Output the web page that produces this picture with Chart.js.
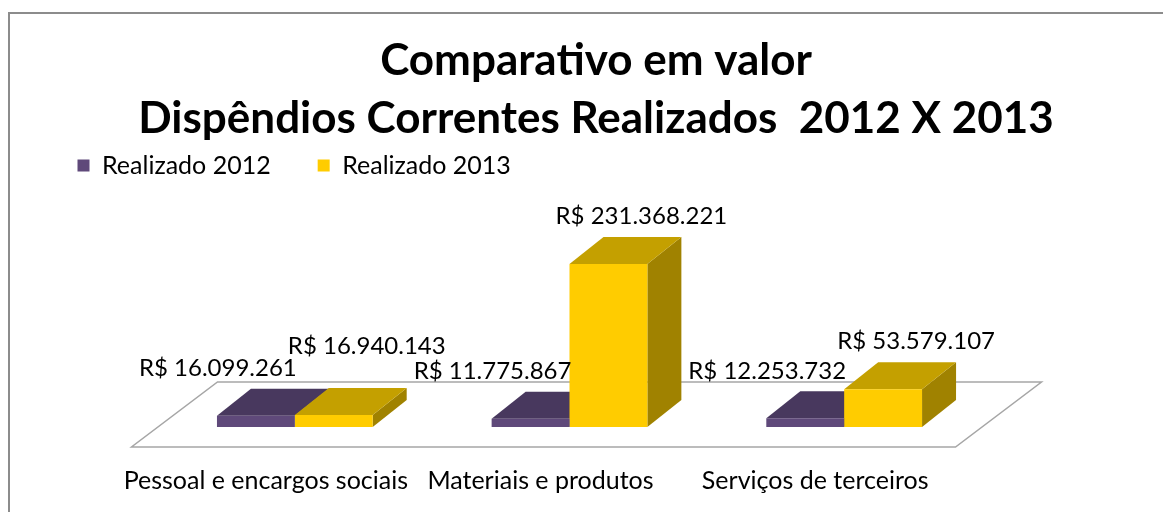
<!DOCTYPE html>
<html>
<head>
<meta charset="utf-8">
<script src="https://cdn.jsdelivr.net/npm/chart.js@4"></script>
<style>
  body { margin: 0; background: #fff; overflow: hidden; }
  #wrap { width: 1163px; height: 512px; }
</style>
</head>
<body>
<div id="wrap"><canvas id="gastosChart"></canvas></div>
<script>
const categories = ['Pessoal e encargos sociais', 'Materiais e produtos', 'Serviços de terceiros'];
const seriesNames = ['Realizado 2012', 'Realizado 2013'];
const realizado2012 = [16099261, 11775867, 12253732];
const realizado2013 = [16940143, 231368221, 53579107];

const FONT = 'Lato';
// face colours: front / top / right side
const faces = [
    { front: '#5f497a', top: '#48385e', side: '#3d2f50' },
    { front: '#ffcc00', top: '#c4a000', side: '#a08200' }
];
// label offsets from bar front centre / top
const labelShift = [{ dx: -38, dy: -47 }, { dx: 33, dy: -48 }];
const depth = { dx: 34, dy: 27 };

function brl(v) {
    return 'R$ ' + String(v).replace(/\B(?=(\d{3})+(?!\d))/g, '.');
}

const bar3d = {
    id: 'bar3d',
    beforeDraw(chart) {
        const ctx = chart.ctx;
        ctx.save();
        ctx.strokeStyle = '#8c8c8c';
        ctx.lineWidth = 2;
        ctx.beginPath();
        ctx.moveTo(9, chart.height + 5);
        ctx.lineTo(9, 13);
        ctx.lineTo(chart.width + 5, 13);
        ctx.stroke();
        ctx.restore();
    },
    beforeDatasetsDraw(chart) {
        const { ctx, chartArea, scales } = chart;
        const y0 = scales.y.getPixelForValue(0);
        // floor
        const fy = y0 + 20, fl = chartArea.left - 26, fr = chartArea.right - 26;
        ctx.save();
        ctx.strokeStyle = '#a6a6a6';
        ctx.lineWidth = 1.5;
        ctx.beginPath();
        ctx.moveTo(fl, fy);
        ctx.lineTo(fr, fy);
        ctx.lineTo(fr + 86, fy - 65);
        ctx.lineTo(fl + 86, fy - 65);
        ctx.closePath();
        ctx.stroke();
        // side + top faces, left to right
        categories.forEach((c, i) => {
            chart.data.datasets.forEach((ds, d) => {
                const b = chart.getDatasetMeta(d).data[i];
                const l = b.x - b.width / 2, r = b.x + b.width / 2;
                ctx.fillStyle = faces[d].side;
                ctx.beginPath();
                ctx.moveTo(r, b.y);
                ctx.lineTo(r + depth.dx, b.y - depth.dy);
                ctx.lineTo(r + depth.dx, b.base - depth.dy);
                ctx.lineTo(r, b.base);
                ctx.closePath();
                ctx.fill();
                ctx.fillStyle = faces[d].top;
                ctx.beginPath();
                ctx.moveTo(l, b.y);
                ctx.lineTo(r, b.y);
                ctx.lineTo(r + depth.dx, b.y - depth.dy);
                ctx.lineTo(l + depth.dx, b.y - depth.dy);
                ctx.closePath();
                ctx.fill();
            });
        });
        ctx.restore();
    },
    afterDatasetsDraw(chart) {
        const ctx = chart.ctx;
        ctx.save();
        ctx.font = '24px ' + FONT;
        ctx.fillStyle = '#000';
        ctx.textAlign = 'center';
        ctx.textBaseline = 'middle';
        categories.forEach((c, i) => {
            const placed = [];
            chart.data.datasets.forEach((ds, d) => {
                const b = chart.getDatasetMeta(d).data[i];
                const txt = brl(ds.data[i]);
                const w = ctx.measureText(txt).width;
                const x = b.x + labelShift[d].dx;
                let y = b.y + labelShift[d].dy;
                placed.forEach(p => {
                    if (Math.abs(p.x - x) < (p.w + w) / 2 + 6 && Math.abs(p.y - y) < 22) y = p.y - 22;
                });
                placed.push({ x, y, w });
                ctx.fillText(txt, x, y);
            });
        });
        ctx.restore();
    }
};

new Chart(document.getElementById('gastosChart'), {
    type: 'bar',
    data: {
        labels: categories,
        datasets: [
            { label: seriesNames[0], data: realizado2012, backgroundColor: faces[0].front, yAxisID: 'y' },
            { label: seriesNames[1], data: realizado2013, backgroundColor: faces[1].front, yAxisID: 'y' }
        ]
    },
    options: {
        responsive: true,
        maintainAspectRatio: false,
        animation: false,
        categoryPercentage: 0.567,
        barPercentage: 1,
        borderWidth: 0,
        layout: { padding: { left: 30.5, right: 1.5, top: 0, bottom: 0 } },
        plugins: {
            title: {
                display: true,
                text: ['Comparativo em valor', 'Dispêndios Correntes Realizados  2012 X 2013'],
                color: '#000',
                font: { family: FONT, size: 44, weight: 'bold', lineHeight: 1.318 },
                padding: { top: 32, bottom: -42 }
            },
            legend: {
                display: true,
                position: 'top',
                align: 'start',
                labels: {
                    color: '#000',
                    font: { family: FONT, size: 25 },
                    boxWidth: 12,
                    boxHeight: 12,
                    padding: 47
                }
            },
            tooltip: { enabled: false }
        },
        scales: {
            x: {
                grid: { display: false, drawTicks: false },
                border: { display: false },
                ticks: {
                    color: '#000',
                    font: { family: FONT, size: 25 },
                    padding: 39,
                    labelOffset: -29,
                    maxRotation: 0,
                    minRotation: 0,
                    autoSkip: false
                },
                afterFit: (s) => { s.height = 85; }
            },
            y: {
                min: 0,
                max: 339500000,
                grid: { display: false, drawTicks: false },
                border: { display: false },
                ticks: { display: false },
                afterFit: (s) => { s.width = 127; }
            },
            y2: {
                position: 'right',
                min: 0,
                max: 1,
                grid: { display: false, drawTicks: false },
                border: { display: false },
                ticks: { display: false },
                afterFit: (s) => { s.width = 180; }
            }
        }
    },
    plugins: [bar3d]
});
</script>
</body>
</html>
